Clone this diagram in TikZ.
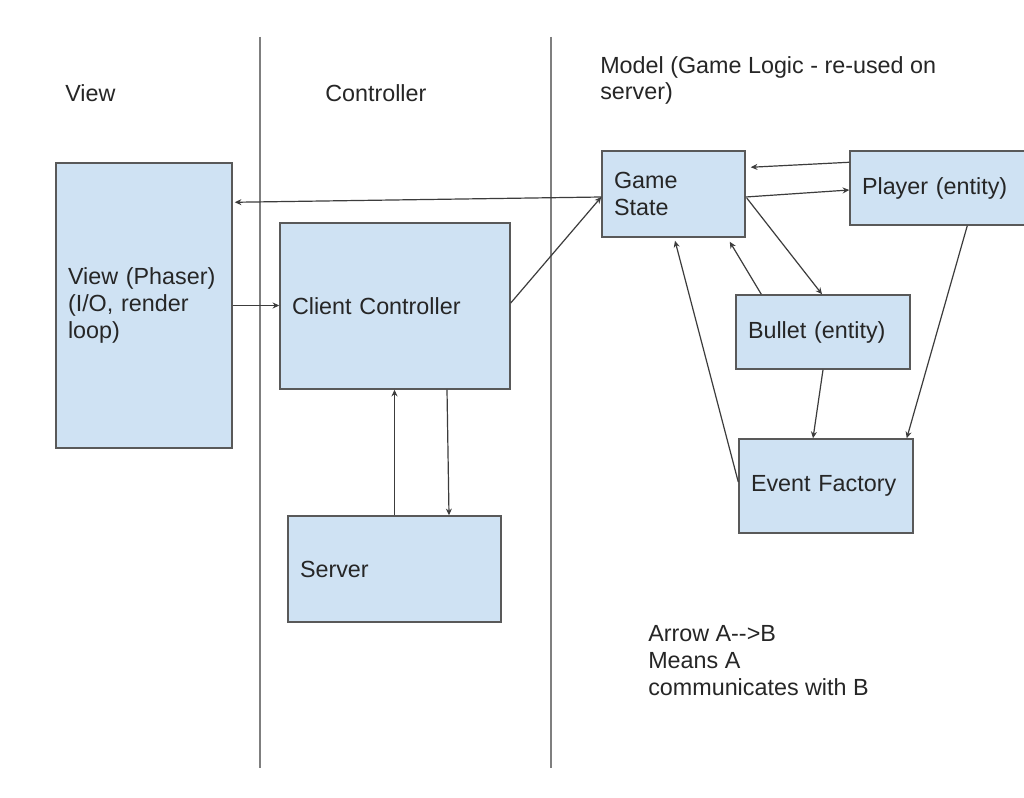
\documentclass[tikz,border=0pt]{standalone}
\usepackage{fontspec}
\setmainfont{Liberation Sans}
\usetikzlibrary{arrows.meta,calc}
\definecolor{boxfill}{HTML}{CFE2F3}
\definecolor{boxline}{HTML}{595959}
\definecolor{linecol}{HTML}{3C3C3C}
\definecolor{sepcol}{HTML}{7F7F7F}
\definecolor{txt}{HTML}{262626}
\begin{document}
\begin{tikzpicture}[x=0.75pt,y=-0.75pt,
  font=\fontsize{17.5}{20}\selectfont, text=txt,
  box/.style={draw=boxline, fill=boxfill, line width=1.1pt, inner xsep=9pt, inner ysep=0pt, align=left},
  conn/.style={draw=linecol, line width=0.9pt, -{Stealth[length=5pt,width=4.5pt]}},
  sepline/.style={draw=sepcol, line width=1.3pt},
  lbl/.style={anchor=base west, inner sep=0pt}]
\useasboundingbox (0,0) rectangle (1024,798);
\fill[white] (0,0) rectangle (1024,798);

% column separators
\coordinate (s1t) at (260,37); \coordinate (s1b) at (260,768);
\coordinate (s2t) at (551,37); \coordinate (s2b) at (551,768);
\draw[sepline] (s1t) -- (s1b);
\draw[sepline] (s2t) -- (s2b);

% headers (base anchor = baseline of last line)
\node[lbl] (hview) at (65,102) {View};
\node[lbl] (hctrl) at (325,102) {Controller};
\node[lbl, align=left] (hmodel) at (600,100) {Model (Game Logic - re-used on\\server)};

% boxes
\node[box, text width=152*0.75pt, minimum height=285*0.75pt] (view) at (144,305.5) {View (Phaser)\\(I/O, render\\loop)};
\node[box, text width=206*0.75pt, minimum height=166*0.75pt] (cc) at (395,306) {Client Controller};
\node[box, text width=189*0.75pt, minimum height=106*0.75pt] (server) at (394.5,569) {Server};
\node[box, text width=119*0.75pt, minimum height=86*0.75pt] (gs) at (673.5,194) {Game\\State};
\node[box, text width=156*0.75pt, minimum height=74*0.75pt] (player) at (940,188) {Player (entity)};
\node[box, text width=150*0.75pt, minimum height=74*0.75pt] (bullet) at (823,332) {Bullet (entity)};
\node[box, text width=150*0.75pt, minimum height=94*0.75pt] (ef) at (826,486) {Event Factory};

% legend
\node[lbl, align=left] (legend) at (648,695) {Arrow A-{}->B\\Means A\\communicates with B};

% connectors
\draw[conn] ($(gs.west)+(0,3)$) -- ($(view.north east)+(2,40)$);
\draw[conn] (view.east) -- (view.east -| cc.west);
\draw[conn] ($(cc.east)+(0,-3)$) -- ($(gs.west)+(0,3)$);
\draw[conn] ($(player.north west)+(0,12)$) -- ($(gs.north east)+(5,17)$);
\draw[conn] ($(gs.east)+(0,3)$) -- ($(player.west)+(0,2)$);
\draw[conn] ($(gs.east)+(1,4)$) -- ($(bullet.north)+(-1,0)$);
\draw[conn] ($(bullet.north west)+(26,0)$) -- ($(gs.south east)+(-16,4)$);
\draw[conn] ($(ef.west)+(0,-4)$) -- ($(gs.south)+(1.5,3)$);
\draw[conn] (bullet.south) -- ($(ef.north)+(-13,0)$);
\draw[conn] ($(player.south west)+(118,0)$) -- ($(ef.north east)+(-7,0)$);
\draw[conn] (server.north) -- (server.north |- cc.south);
\draw[conn] ($(cc.south)+(52,0)$) -- ($(server.north)+(54.5,0)$);
\end{tikzpicture}
\end{document}
